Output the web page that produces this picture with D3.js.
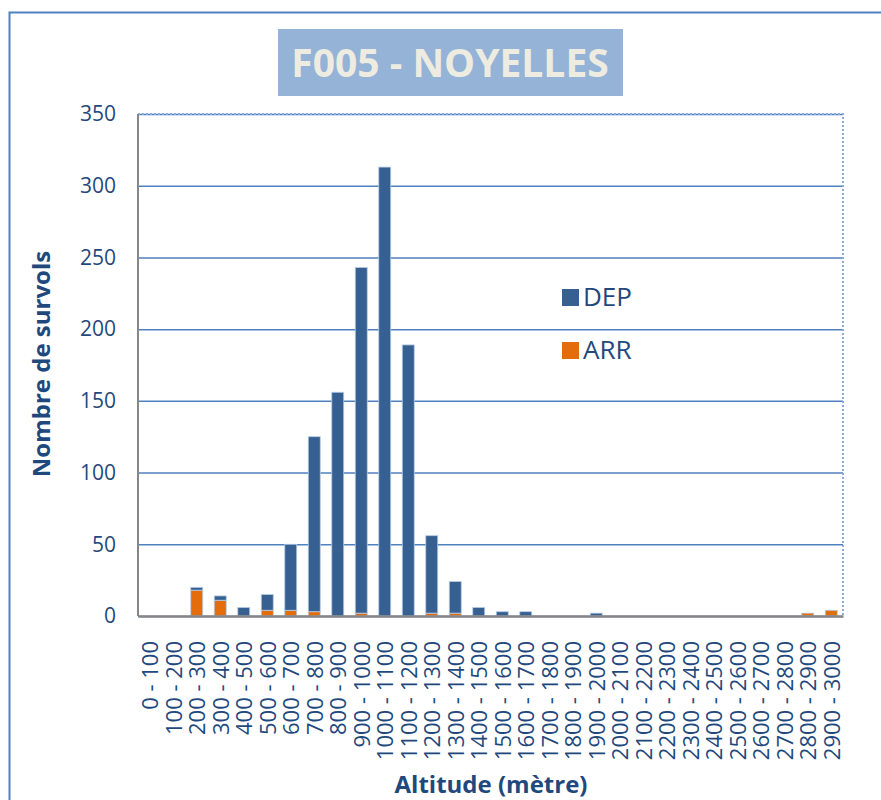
<!DOCTYPE html>
<html>
<head>
<meta charset="utf-8">
<script src="https://cdnjs.cloudflare.com/ajax/libs/d3/7.8.5/d3.min.js"></script>
<style>
  body { margin: 0; background: #fff; }
  svg text { font-family: "Open Sans", "Noto Sans", sans-serif; }
</style>
</head>
<body>
<svg id="chart" width="881" height="800"></svg>
<script>
// altitude classes (x categories)
var categories = ['0 - 100', '100 - 200', '200 - 300', '300 - 400', '400 - 500',
    '500 - 600', '600 - 700', '700 - 800', '800 - 900', '900 - 1000',
    '1000 - 1100', '1100 - 1200', '1200 - 1300', '1300 - 1400', '1400 - 1500',
    '1500 - 1600', '1600 - 1700', '1700 - 1800', '1800 - 1900', '1900 - 2000',
    '2000 - 2100', '2100 - 2200', '2200 - 2300', '2300 - 2400', '2400 - 2500',
    '2500 - 2600', '2600 - 2700', '2700 - 2800', '2800 - 2900', '2900 - 3000'];

// number of flights per class
var depValues = [0, 0, 2, 3, 6, 11, 46, 122, 156, 241, 313, 189, 54, 22, 6,
    3, 3, 0, 0, 2, 0, 0, 0, 0, 0, 0, 0, 0, 0, 0];
var arrValues = [0, 0, 18, 11, 0, 4, 4, 3, 0, 2, 0, 0, 2, 2, 0,
    0, 0, 0, 0, 0, 0, 0, 0, 0, 0, 0, 0, 0, 2, 4];

var yTicks = [0, 50, 100, 150, 200, 250, 300, 350];
var seriesNames = ['DEP', 'ARR'];
var colors = {DEP: '#376092', ARR: '#e46c0a'};

var svg = d3.select('#chart');
var margin = {top: 114, left: 138, right: 38, bottom: 184};
var width = 881 - margin.left - margin.right;
var height = 800 - margin.top - margin.bottom;

// outer chart frame
svg.append('rect')
    .attr('x', 9.5).attr('y', 12.5)
    .attr('width', 1000).attr('height', 1000)
    .style('fill', 'none')
    .style('stroke', '#4f81bd')
    .style('stroke-width', 2);

// title box
var titleG = svg.append('g');
titleG.append('rect')
    .attr('x', 278).attr('y', 29)
    .attr('width', 345).attr('height', 67)
    .style('fill', '#95b3d7');
titleG.append('text')
    .attr('x', 450).attr('y', 77)
    .attr('text-anchor', 'middle')
    .style('font-size', '39px')
    .style('font-weight', 'bold')
    .style('fill', '#eeece1')
    .text('F005 - NOYELLES');

var g = svg.append('g')
    .attr('transform', 'translate(' + margin.left + ',' + margin.top + ')');

var x = d3.scaleBand()
    .domain(categories)
    .range([0, width])
    .paddingInner(0.49)
    .paddingOuter(0.245);

var y = d3.scaleLinear()
    .domain([0, 350])
    .range([height, 0]);

// grid lines + y labels
var yAxis = d3.axisLeft(y)
    .tickValues(yTicks)
    .tickSize(-width)
    .tickPadding(22);

g.append('g')
    .attr('class', 'y-axis')
    .call(yAxis)
    .call(function(s) {
        s.select('.domain').remove();
        s.selectAll('line')
            .style('stroke', '#4f81bd')
            .style('stroke-width', 1.5);
        s.selectAll('text')
            .style('font-size', '21px')
            .style('fill', '#1f497d');
    });

// plot area border (dotted top / right)
g.append('path')
    .attr('d', 'M0,0H' + width + 'V' + height)
    .style('fill', 'none')
    .style('stroke', '#8eaadb')
    .style('stroke-width', 2)
    .style('stroke-dasharray', '2,2');

// stacked bars, ARR at the bottom
var rows = categories.map(function(c, i) {
    return {cat: c, ARR: arrValues[i], DEP: depValues[i]};
});
var stack = d3.stack().keys(['ARR', 'DEP'])(rows);

g.selectAll('.series')
    .data(stack)
    .enter().append('g')
    .attr('class', 'series')
    .style('fill', function(d) { return colors[d.key]; })
    .selectAll('rect')
    .data(function(d) { return d.filter(function(p) { return p[1] - p[0] > 0; }); })
    .enter().append('rect')
    .attr('x', function(d) { return x(d.data.cat); })
    .attr('y', function(d) { return y(d[1]); })
    .attr('width', x.bandwidth())
    .attr('height', function(d) { return y(d[0]) - y(d[1]); })
    .style('stroke', '#b9cde5')
    .style('stroke-width', 0.8);

// left axis line
g.append('line')
    .attr('x1', 0).attr('x2', 0)
    .attr('y1', 0).attr('y2', height)
    .style('stroke', '#868686')
    .style('stroke-width', 2);

// x axis
var xAxis = d3.axisBottom(x).tickSize(0).tickPadding(0);
g.append('g')
    .attr('class', 'x-axis')
    .attr('transform', 'translate(0,' + height + ')')
    .call(xAxis)
    .call(function(s) {
        s.select('.domain')
            .style('stroke', '#868686')
            .style('stroke-width', 2.5);
        s.selectAll('text')
            .attr('transform', 'rotate(-90)')
            .attr('text-anchor', 'end')
            .attr('x', -25)
            .attr('y', 1)
            .attr('dy', '0.35em')
            .style('font-size', '22px')
            .style('fill', '#1f497d');
    });

// axis titles
svg.append('text')
    .attr('transform', 'translate(50,364) rotate(-90)')
    .attr('text-anchor', 'middle')
    .style('font-size', '24px')
    .style('font-weight', 'bold')
    .style('fill', '#1f497d')
    .text('Nombre de survols');

svg.append('text')
    .attr('x', 491).attr('y', 793)
    .attr('text-anchor', 'middle')
    .style('font-size', '24px')
    .style('font-weight', 'bold')
    .style('fill', '#1f497d')
    .text('Altitude (mètre)');

// legend
var legend = svg.selectAll('.legend')
    .data(seriesNames)
    .enter().append('g')
    .attr('class', 'legend')
    .attr('transform', function(d, i) { return 'translate(562,' + (289 + i * 53) + ')'; });
legend.append('rect')
    .attr('width', 17).attr('height', 17)
    .style('fill', function(d) { return colors[d]; });
legend.append('text')
    .attr('x', 21).attr('y', 17)
    .style('font-size', '26px')
    .style('fill', '#1f497d')
    .text(function(d) { return d; });
</script>
</body>
</html>
